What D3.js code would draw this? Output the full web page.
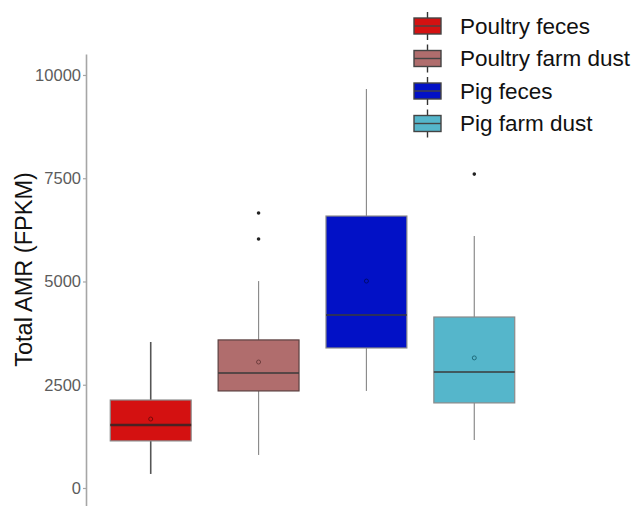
<!DOCTYPE html>
<html>
<head>
<meta charset="utf-8">
<script src="https://cdn.jsdelivr.net/npm/d3@7"></script>
<style>
  html, body { margin: 0; padding: 0; background: #ffffff; }
  svg { display: block; font-family: "Liberation Sans", Arial, sans-serif; }
</style>
</head>
<body>
<svg id="chart" width="635" height="506"></svg>
<script>
// Sample groups
const categories = ["Poultry feces", "Poultry farm dust", "Pig feces", "Pig farm dust"];
const fills = ["#d41111", "#b06d6d", "#0211c6", "#55b6cb"];
const meanStroke = ["#7a0a0a", "#6e3d3d", "#000a70", "#1f6c7c"];

// Box statistics (FPKM)
const whiskerLow  = [340, 800, 2350, 1160];
const q1          = [1140, 2350, 3390, 2060];
const median      = [1525, 2785, 4190, 2810];
const q3          = [2130, 3585, 6585, 4140];
const whiskerHigh = [3535, 5010, 9660, 6100];
const means       = [1670, 3050, 5010, 3150];
const outliers    = [[], [6030, 6660], [], [7600]];

const yTicks = [0, 2500, 5000, 7500, 10000];

const svg = d3.select("#chart");

const x = d3.scalePoint().domain(categories).range([86, 539]).padding(0.6);
const boxW = x.step() * 0.75;
const y = d3.scaleLinear().domain([-436, 10508]).range([506, 54]);

// Y axis
const yAxis = svg.append("g")
  .attr("transform", "translate(86,0)")
  .call(d3.axisLeft(y).tickValues(yTicks).tickSize(3).tickSizeOuter(0).tickFormat(d3.format("d")));
yAxis.select(".domain").attr("stroke", "#a6a6a6").attr("stroke-width", 1.6);
yAxis.selectAll(".tick line").attr("stroke", "#a6a6a6").attr("stroke-width", 1.2);
yAxis.selectAll(".tick text")
  .attr("fill", "#5c5c5c")
  .attr("font-size", 16.5)
  .attr("x", -5)
  .style("font-family", "'Liberation Sans', Arial, sans-serif");

svg.append("text")
  .attr("transform", `translate(32,${(y(0) + y(10000)) / 2 - 12}) rotate(-90)`)
  .attr("text-anchor", "middle")
  .attr("font-size", 23.5)
  .attr("fill", "#111")
  .text("Total AMR (FPKM)");

// Boxes
const groups = svg.append("g").selectAll("g.box")
  .data(categories.map((c, i) => ({ c, i })))
  .join("g").attr("class", "box");

groups.append("line")
  .attr("x1", d => x(d.c)).attr("x2", d => x(d.c))
  .attr("y1", d => y(whiskerHigh[d.i])).attr("y2", d => y(q3[d.i]))
  .attr("stroke", d => d.i === 0 ? "#555" : "#8c8c8c").attr("stroke-width", d => d.i === 0 ? 1.6 : 1.2);
groups.append("line")
  .attr("x1", d => x(d.c)).attr("x2", d => x(d.c))
  .attr("y1", d => y(q1[d.i])).attr("y2", d => y(whiskerLow[d.i]))
  .attr("stroke", d => d.i === 0 ? "#555" : "#8c8c8c").attr("stroke-width", d => d.i === 0 ? 1.6 : 1.2);

groups.append("rect")
  .attr("x", d => x(d.c) - boxW / 2)
  .attr("width", boxW)
  .attr("y", d => y(q3[d.i]))
  .attr("height", d => y(q1[d.i]) - y(q3[d.i]))
  .attr("fill", d => fills[d.i])
  .attr("stroke", d => d.i === 1 ? "#5a4040" : "#8a8a8a")
  .attr("stroke-width", 1.2);

groups.append("line")
  .attr("x1", d => x(d.c) - boxW / 2).attr("x2", d => x(d.c) + boxW / 2)
  .attr("y1", d => y(median[d.i])).attr("y2", d => y(median[d.i]))
  .attr("stroke", d => d.i === 0 ? "#4a2222" : "#3a3a3a")
  .attr("stroke-width", d => d.i === 0 ? 2.4 : 1.6);

groups.append("circle")
  .attr("cx", d => x(d.c)).attr("cy", d => y(means[d.i]))
  .attr("r", 2)
  .attr("fill", "none")
  .attr("stroke", d => meanStroke[d.i])
  .attr("stroke-width", 1);

groups.selectAll("circle.out")
  .data(d => outliers[d.i].map(v => ({ c: d.c, v })))
  .join("circle").attr("class", "out")
  .attr("cx", d => x(d.c)).attr("cy", d => y(d.v))
  .attr("r", 1.8).attr("fill", "#222");

// Legend
const legend = svg.append("g").attr("transform", "translate(414,26)");
const rowH = 32.5, keyW = 27, keyH = 16;
const items = legend.selectAll("g").data(categories).join("g")
  .attr("transform", (d, i) => `translate(0,${i * rowH})`);
items.append("line")
  .attr("x1", keyW / 2).attr("x2", keyW / 2)
  .attr("y1", -14).attr("y2", 14)
  .attr("stroke", "#333").attr("stroke-width", 1.4);
items.append("rect")
  .attr("x", 0).attr("y", -keyH / 2).attr("width", keyW).attr("height", keyH)
  .attr("fill", (d, i) => fills[i]).attr("stroke", "#444").attr("stroke-width", 1.4);
items.append("line")
  .attr("x1", 0).attr("x2", keyW).attr("y1", 0).attr("y2", 0)
  .attr("stroke", "#444").attr("stroke-width", 1.4);
items.append("text")
  .attr("x", 46).attr("y", 0).attr("dy", "0.35em")
  .attr("font-size", 22.5).attr("fill", "#111")
  .text(d => d);
</script>
</body>
</html>
